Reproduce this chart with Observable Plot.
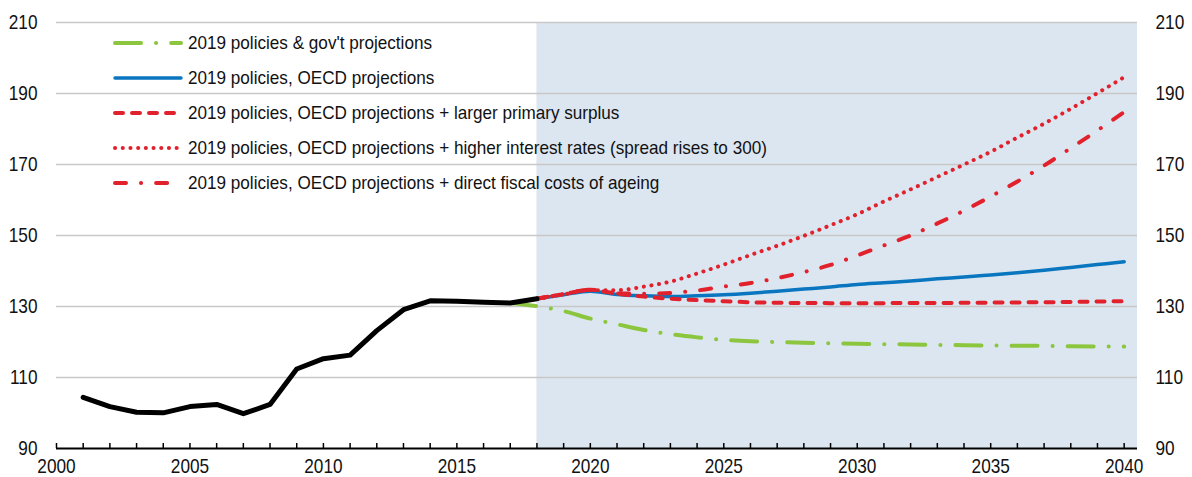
<!DOCTYPE html>
<html>
<head>
<meta charset="utf-8">
<script src="https://cdn.jsdelivr.net/npm/d3@7"></script>
<script src="https://cdn.jsdelivr.net/npm/@observablehq/plot@0.6"></script>
<style>
  html, body { margin: 0; padding: 0; background: #fff; }
  #wrap { position: relative; width: 1192px; height: 477px; }
  #legend { position: absolute; left: 113px; top: 25px; font-family: "Liberation Sans", Arial, sans-serif; font-size: 18.6px; color: #111; }
  .row { display: flex; align-items: center; height: 35px; white-space: nowrap; }
  .row svg { width: 70px; height: 12px; margin-right: 5px; flex: none; }
  .row span { display: inline-block; transform-origin: left center; }
</style>
</head>
<body>
<div id="wrap"><div id="legend"></div></div>
<script>
// ---- data ----
const histYears = [2001,2002,2003,2004,2005,2006,2007,2008,2009,2010,2011,2012,2013,2014,2015,2016,2017,2018];
const histValues = [104.4,101.8,100.2,100.05,101.8,102.4,99.8,102.4,112.4,115.3,116.3,123.2,129.1,131.6,131.5,131.2,131.0,132.2];

const govYears = [2017,2018,2019,2020,2021,2022,2023,2024,2025,2026,2027,2028,2029,2030,2031,2032,2033,2034,2035,2036,2037,2038,2039,2040];
const govValues = [131.0,130.1,128.7,126.6,125.0,123.4,122.2,121.3,120.6,120.2,120.0,119.8,119.65,119.5,119.4,119.3,119.2,119.1,119.0,118.95,118.9,118.8,118.75,118.7];

const projYears = [2018,2019,2020,2021,2022,2023,2024,2025,2026,2027,2028,2029,2030,2031,2032,2033,2034,2035,2036,2037,2038,2039,2040];
const oecdValues =    [132.2,133.3,134.3,133.4,133.0,132.8,133.0,133.3,133.75,134.3,134.9,135.5,136.2,136.7,137.2,137.8,138.3,138.9,139.5,140.2,141.0,141.8,142.6];
const surplusValues = [132.2,133.5,134.7,133.6,132.8,132.2,131.8,131.5,131.2,131.05,131.0,130.95,130.95,130.95,131.0,131.0,131.05,131.1,131.15,131.2,131.3,131.4,131.5];
const interestValues =[132.2,133.4,134.6,134.6,135.6,137.0,139.3,141.8,144.5,147.1,149.9,152.9,156.0,159.6,163.0,166.5,170.0,173.6,177.6,181.5,185.7,190.1,194.6];
const ageingValues =  [132.2,133.5,134.7,133.7,133.6,133.8,134.5,135.6,136.6,138.0,139.7,141.7,144.4,147.2,150.0,153.4,157.0,161.0,165.2,169.7,174.6,179.6,184.8];

const seriesLabels = [
  "2019 policies & gov't projections",
  "2019 policies, OECD projections",
  "2019 policies, OECD projections + larger primary surplus",
  "2019 policies, OECD projections + higher interest rates (spread rises to 300)",
  "2019 policies, OECD projections + direct fiscal costs of ageing"
];
const yTicks = [90,110,130,150,170,190,210];
const xLabelTicks = [2000,2005,2010,2015,2020,2025,2030,2035,2040];
const xMinorTicks = d3.range(2000, 2041);
const projStart = 2018;

// ---- styles ----
const GREEN = "#8cc63f", BLUE = "#0a76c0", RED = "#e1222d";
const styles = [
  {stroke: GREEN, strokeWidth: 4, strokeDasharray: "26,15,0.1,15", strokeLinecap: "round"},
  {stroke: BLUE, strokeWidth: 3.5, strokeDasharray: null, strokeLinecap: "round"},
  {stroke: RED, strokeWidth: 4, strokeDasharray: "8,9", strokeLinecap: "round"},
  {stroke: RED, strokeWidth: 4, strokeDasharray: "0.1,7.6", strokeLinecap: "round"},
  {stroke: RED, strokeWidth: 4, strokeDasharray: "11,15,0.1,15", strokeLinecap: "round"}
];

const toRows = (xs, vs) => xs.map((x, i) => ({x, y: vs[i]}));
const hist = toRows(histYears, histValues);
const series = [
  toRows(govYears, govValues),
  toRows(projYears, oecdValues),
  toRows(projYears, surplusValues),
  toRows(projYears, interestValues),
  toRows(projYears, ageingValues)
];

const FONT = '"Liberation Sans", Arial, sans-serif';
const xMax = 2040.5;

const chart = Plot.plot({
  width: 1192,
  height: 477,
  marginLeft: 56,
  marginRight: 55,
  marginTop: 22,
  marginBottom: 29,
  style: {fontFamily: FONT, fontSize: "21px", color: "#111", background: "transparent"},
  x: {domain: [2000, xMax]},
  y: {domain: [90, 210]},
  marks: [
    Plot.rect([{x1: projStart, x2: xMax, y1: 90, y2: 210}], {x1: "x1", x2: "x2", y1: "y1", y2: "y2", fill: "#dce6f1"}),
    Plot.gridY(yTicks.filter(d => d > 90), {stroke: "#c8c8c8", strokeOpacity: 1, strokeWidth: 1.5}),
    Plot.axisY({anchor: "left", ticks: yTicks, tickSize: 0, tickPadding: 19, fontSize: 21, label: null}),
    Plot.axisY({anchor: "right", ticks: yTicks, tickSize: 0, tickPadding: 18, fontSize: 21, label: null, textAnchor: "start"}),
    Plot.axisX({ticks: xMinorTicks, tickSize: -5, text: null, stroke: "#000", strokeWidth: 1.5, label: null}),
    Plot.axisX({ticks: xLabelTicks, tickSize: 0, tickPadding: 10, tickFormat: d => String(d), fontSize: 21, label: null}),
    Plot.ruleY([90], {stroke: "#000", strokeWidth: 2.2}),
    ...series.map((s, i) => Plot.line(s, {x: "x", y: "y", curve: "monotone-x", ...styles[i]})),
    Plot.line(hist, {x: "x", y: "y", stroke: "#000", strokeWidth: 5, strokeLinejoin: "round", strokeLinecap: "round"})
  ]
});
document.getElementById("wrap").prepend(chart);

// narrow the tick labels (Arial Narrow look)
chart.querySelectorAll("text").forEach(t => {
  const w = t.getComputedTextLength();
  if (w > 0) {
    t.setAttribute("textLength", (w * 0.82).toFixed(2));
    t.setAttribute("lengthAdjust", "spacingAndGlyphs");
  }
});

// ---- legend (overlaid inside the plot area) ----
const legend = document.getElementById("legend");
const spans = [];
seriesLabels.forEach((label, i) => {
  const st = styles[i];
  const row = document.createElement("div");
  row.className = "row";
  row.innerHTML = `<svg viewBox="0 0 70 12"><line x1="2" y1="6" x2="68" y2="6" stroke="${st.stroke}" stroke-width="${st.strokeWidth}" stroke-linecap="${st.strokeLinecap}" ${st.strokeDasharray ? `stroke-dasharray="${st.strokeDasharray}"` : ""}/></svg><span>${label}</span>`;
  legend.appendChild(row);
  spans.push(row.querySelector("span"));
});
// condense legend text so the longest entry spans ~579px as in the reference
const longest = d3.max(spans, s => s.offsetWidth);
const k = Math.min(1, 579 / longest);
spans.forEach(s => s.style.transform = `scaleX(${k})`);
</script>
</body>
</html>
